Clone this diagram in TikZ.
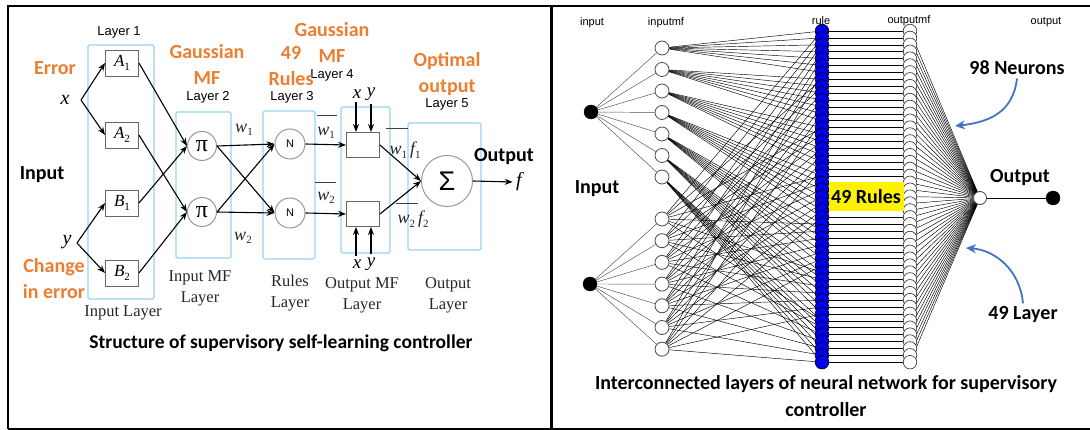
\documentclass[tikz,border=0pt]{standalone}
\usepackage{fontspec}
\setmainfont{Liberation Serif}
\newfontfamily\calib{Carlito}
\newfontfamily\ari{Liberation Sans}
\usetikzlibrary{arrows.meta,backgrounds,calc}
\definecolor{orng}{RGB}{237,125,49}
\definecolor{lblue}{RGB}{150,212,240}
\definecolor{arrblue}{RGB}{68,114,196}
\definecolor{ruleblue}{RGB}{0,0,235}
\newcommand\sbs[1]{\raisebox{-0.45ex}{\upshape\fontsize{11}{12}\selectfont #1}}
\tikzset{
 lay/.style={draw=lblue,line width=1.3pt,rounded corners=1.5pt},
 mfbox/.style={draw=black!60,line width=0.9pt,fill=white,minimum width=33pt,minimum height=26pt,inner sep=0pt,font=\fontsize{17}{20}\selectfont},
 neur/.style={circle,draw=black!40,line width=1pt,fill=white,inner sep=0pt},
 arr/.style={line width=1.1pt,-{Stealth[length=8pt,width=6pt]}},
 orl/.style={font=\calib\bfseries\fontsize{20}{26}\selectfont,text=orng,align=center},
 layl/.style={font=\ari\fontsize{13}{15}\selectfont},
 tml/.style={font=\fontsize{16.5}{21}\selectfont,align=center,text=black!85},
 mth/.style={font=\itshape\fontsize{20}{22}\selectfont},
 wlab/.style={font=\itshape\fontsize{18}{20}\selectfont,text=black!85},
 bl/.style={font=\calib\bfseries\fontsize{20}{24}\selectfont},
 capt/.style={font=\calib\bfseries\fontsize{20}{27}\selectfont,align=center},
 smalllab/.style={font=\ari\fontsize{11}{12}\selectfont},
 inn/.style={circle,fill=black,draw=black,minimum size=14pt,inner sep=0pt},
 mfn/.style={circle,fill=white,draw=black!70,line width=0.8pt,minimum size=14pt,inner sep=0pt},
 rn/.style={circle,fill=ruleblue,draw=black!85!blue,line width=0.75pt,minimum size=13.5pt,inner sep=0pt},
 omfn/.style={circle,fill=white,draw=black!80,line width=0.65pt,minimum size=13.5pt,inner sep=0pt},
 wire/.style={line width=0.45pt,black},
 barr/.style={draw=arrblue,line width=1.8pt,-{Stealth[length=10pt,width=9pt]}},
 ovl/.style={line width=1pt,black!75},
}
\begin{document}
\begin{tikzpicture}[x=1pt,y=-1pt]
\useasboundingbox (0,0) rectangle (1090,430);
% frame
\draw[line width=2.6pt] (8,429) -- (8,6) -- (1090,6);
\draw[line width=2.6pt] (8,429) -- (1090,429);
\draw[line width=3pt] (551.5,6) -- (551.5,429);

% ---------------- left panel ----------------
\draw[lay] (88,45) rectangle (154,299);
\draw[lay] (176,112) rectangle (231,258);
\draw[lay] (263,111) rectangle (315,259);
\draw[lay] (341,107) rectangle (390,253);
\draw[lay] (408,123) rectangle (481,250);

\node[mfbox] (A1) at (122,63) {\itshape A\sbs{1}};
\node[mfbox] (A2) at (122,135) {\itshape A\sbs{2}};
\node[mfbox] (B1) at (122,203) {\itshape B\sbs{1}};
\node[mfbox] (B2) at (122,273) {\itshape B\sbs{2}};

\node[neur,minimum size=29pt,font=\fontsize{24}{24}\selectfont] (P1) at (202,146) {π};
\node[neur,minimum size=29pt,font=\fontsize{24}{24}\selectfont] (P2) at (202,212) {π};
\node[neur,minimum size=30pt,font=\ari\fontsize{11}{12}\selectfont] (N1) at (290,144) {N};
\node[neur,minimum size=30pt,font=\ari\fontsize{11}{12}\selectfont] (N2) at (290,213) {N};
\node[draw=black!60,line width=0.9pt,fill=white,minimum width=33pt,minimum height=25pt] (S1) at (363,145) {};
\node[draw=black!60,line width=0.9pt,fill=white,minimum width=33pt,minimum height=25pt] (S2) at (363,214) {};
\node[neur,minimum size=51pt,font=\ari\fontsize{27}{27}\selectfont] (Sg) at (447,181) {Σ};

\node[mth] (xin) at (65,100) {x};
\node[mth] (yin) at (67,242) {y};
\coordinate (xs) at (81,100);
\coordinate (ys) at (77,243);
\node[mth,font=\itshape\fontsize{19}{20}\selectfont] (xt) at (357,94) {x};
\node[mth,font=\itshape\fontsize{19}{20}\selectfont] (yt) at (371,94) {y};
\node[mth,font=\itshape\fontsize{19}{20}\selectfont] (xb) at (357,264) {x};
\node[mth,font=\itshape\fontsize{19}{20}\selectfont] (yb) at (371,264) {y};
\node[mth] (fo) at (519,182) {f};

\draw[arr] (xs) -- (A1.west);
\draw[arr] (xs) -- (A2.west);
\draw[arr] (ys) -- (B1.west);
\draw[arr] (ys) -- (B2.west);
\draw[arr] (A1.east) -- (P1.west);
\draw[arr] (B1.east) -- (P1.west);
\draw[arr] (A2.east) -- (P2.west);
\draw[arr] (B2.east) -- (P2.west);
\draw[arr] (P1.east) -- (N1.west);
\draw[arr] (P1.east) -- (N2.west);
\draw[arr] (P2.east) -- (N1.west);
\draw[arr] (P2.east) -- (N2.west);
\draw[arr] (N1.east) -- (S1.west);
\draw[arr] (N2.east) -- (S2.west);
\draw[arr] ([xshift=-1pt]xt.south) -- ([xshift=-1pt]xt.south |- S1.north);
\draw[arr] (yt.south) -- (yt.south |- S1.north);
\draw[arr] ([xshift=-1pt]xb.north) -- ([xshift=-1pt]xb.north |- S2.south);
\draw[arr] (yb.north) -- (yb.north |- S2.south);
\draw[arr] (S1.east) -- (Sg.west);
\draw[arr] (S2.east) -- (Sg.west);
\draw[arr] (Sg.east) -- (fo.west);

% weight labels
\node[wlab] at (244,130) {w\sbs{1}};
\node[wlab] at (243,238) {w\sbs{2}};
\node[wlab] at (326,133) {w\sbs{1}};
\node[wlab] at (326,198) {w\sbs{2}};
\node[wlab] at (405,150) {w\sbs{1}\,f\sbs{1}};
\node[wlab] at (413,219) {w\sbs{2}\,f\sbs{2}};
\draw[ovl] (317,116) -- (337,116);
\draw[ovl] (315,183) -- (336,183);
\draw[ovl] (386,129) -- (408,129);
\draw[ovl] (396,204) -- (418,204);

% headings
\node[layl] at (119,32) {Layer 1};
\node[layl] at (208,97) {Layer 2};
\node[layl] at (292,97) {Layer 3};
\node[layl] at (332,75) {Layer 4};
\node[layl] at (447,104) {Layer 5};
\node[orl] at (55,68) {Error};
\node[orl] at (54,279) {Change\\in error};
\node[orl] at (207,64) {Gaussian\\MF};
\node[orl] at (291,66) {49\\Rules};
\node[orl] at (332,42) {Gaussian\\MF};
\node[orl] at (447,74) {Optimal\\output};
\node[bl] at (42,175) {Input};
\node[bl] at (504,157) {Output};

\node[tml] at (123,313) {Input Layer};
\node[tml] at (200,288) {Input MF\\Layer};
\node[tml] at (290,293) {Rules\\Layer};
\node[tml] at (362,295) {Output MF\\Layer};
\node[tml] at (448,295) {Output\\Layer};

\node[capt,font=\calib\bfseries\fontsize{19.5}{24}\selectfont] at (281,343) {Structure of supervisory self-learning controller};

% ---------------- right panel ----------------
\node[smalllab] at (592,23) {input};
\node[smalllab] at (666,23) {inputmf};
\node[smalllab] at (821,21) {rule};
\node[smalllab] at (909,21) {outputmf};
\node[smalllab] at (1046,22) {output};

\node[inn] (i1) at (591,112) {};
\node[inn] (i2) at (590,284) {};
\foreach \k in {0,...,6} {
  \node[mfn] (ma\k) at (662,48+21.5*\k) {};
  \node[mfn] (mb\k) at (662,219+21.7*\k) {};
}
\foreach \i in {0,...,48} {
  \node[rn] (r\i) at (822,31+6.9*\i) {};
}
\foreach \i in {0,...,48} {
  \node[omfn] (o\i) at (910,31+6.9*\i) {};
}
\node[circle,fill=white,draw=black!75,line width=0.8pt,minimum size=13pt,inner sep=0pt] (out) at (980,198) {};
\node[inn] (fin) at (1053,198) {};

\begin{scope}[on background layer]
\foreach \k in {0,...,6} {
  \draw[wire,black!70] (i1) -- (ma\k);
  \draw[wire,black!70] (i2) -- (mb\k);
  \foreach \j in {0,...,6} {
    \pgfmathtruncatemacro\ra{7*\k+\j}
    \pgfmathtruncatemacro\rb{7*\j+\k}
    \draw[wire] (ma\k) -- (r\ra);
    \draw[wire] (mb\k) -- (r\rb);
  }
}
\foreach \i in {0,...,48} {
  \draw[wire] (r\i) -- (o\i);
  \draw[wire] (o\i) -- (out);
}
\end{scope}
\draw[wire,line width=0.8pt] (out) -- (fin);

\node[bl,fill=yellow,minimum width=75pt,minimum height=29pt,inner sep=1pt] at (866,197) {49 Rules};
\node[bl] at (597,189) {Input};
\node[bl] (n98) at (1017,68) {98 Neurons};
\node[bl] at (1020,178) {Output};
\node[bl] (l49) at (1023,315) {49 Layer};
\coordinate (t98) at (955,126);
\coordinate (t49) at (966,248);
\draw[barr] (n98.south) .. controls (1013,112) and (990,122) .. (t98);
\draw[barr] (l49.north) .. controls (1020,270) and (995,250) .. (t49);

\node[capt] at (826,396) {Interconnected layers of neural network for supervisory\\controller};
\end{tikzpicture}
\end{document}
